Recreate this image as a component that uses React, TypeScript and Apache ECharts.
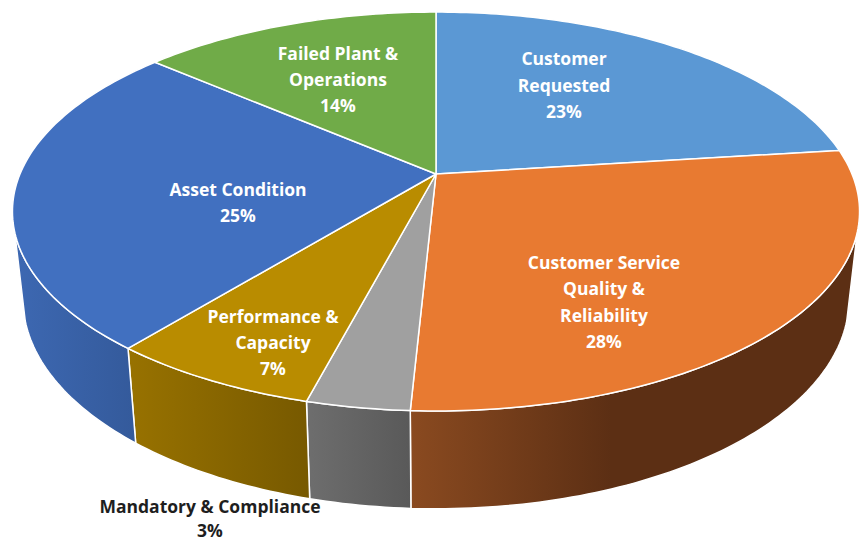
import React, { useEffect, useRef } from "react";
import * as echarts from "echarts";

const categories = [
  "Customer\nRequested",
  "Customer Service\nQuality &\nReliability",
  "Mandatory & Compliance",
  "Performance &\nCapacity",
  "Asset Condition",
  "Failed Plant &\nOperations",
];
const shares = [23, 27.8, 3.3, 6.8, 25.4, 13.7];

const topColors = ["#5B98D4", "#E87A31", "#A0A0A0", "#B98C00", "#4170C0", "#70AB48"];
const wallColors: [string, string, number][] = [
  ["#5B98D4", "#5B98D4", 1],
  ["#8A4A20", "#5C2F14", 0.45],
  ["#6E6E6E", "#595959", 1],
  ["#987200", "#775900", 1],
  ["#3D68B2", "#345A9B", 1],
  ["#70AB48", "#70AB48", 1],
];
const labelFirstLine: [number, number][] = [
  [564, 58],
  [604, 262],
  [210, 506],
  [273, 316],
  [238, 189],
  [338, 53],
];
const labelSteps = [26.5, 26.3, 24, 26, 26, 26];

// Projective view of the pie disc
const CX = 436;
const CY = 174;
const RX = 416;
const RY = 192.4;
const PERSPECTIVE = 0.188;
const WALL_SCALE_X = 0.975;
const WALL_SCALE_Y = 1.05;
const WALL_DROP = 86;
const WALL_FROM = 106.6;
const WALL_TO = 253.4;

const total = shares.reduce((a, b) => a + b, 0);
const startAngles = shares.map((_, i) =>
  (shares.slice(0, i).reduce((a, b) => a + b, 0) / total) * 360
);

function rim(deg: number): [number, number] {
  const r = (deg * Math.PI) / 180;
  const u = Math.sin(r);
  const v = -Math.cos(r);
  const d = 1 - PERSPECTIVE * v;
  return [CX + (RX * u) / d, CY + (RY * v) / d];
}
function lower(p: [number, number]): [number, number] {
  return [
    CX + (p[0] - CX) * WALL_SCALE_X,
    CY + (p[1] - CY) * WALL_SCALE_Y + WALL_DROP,
  ];
}
function arc(a: number, b: number): [number, number][] {
  const n = Math.max(2, Math.ceil((b - a) / 1));
  const pts: [number, number][] = [];
  for (let i = 0; i <= n; i++) pts.push(rim(a + ((b - a) * i) / n));
  return pts;
}

const renderWall = (params: any, api: any) => {
  const i = params.dataIndex;
  const a = Math.max(startAngles[i], WALL_FROM);
  const b = Math.min(startAngles[i] + (api.value(0) / total) * 360, WALL_TO);
  if (b <= a) return { type: "group", children: [] };
  const upper = arc(a, b);
  const points = [...upper, ...upper.slice().reverse().map(lower)];
  const [c0, c1, stop] = wallColors[i];
  return {
    type: "polygon",
    shape: { points },
    style: {
      fill: new echarts.graphic.LinearGradient(0, 0, 1, 0, [
        { offset: 0, color: c0 },
        { offset: stop, color: c1 },
        { offset: 1, color: c1 },
      ]),
      stroke: "#FFFFFF",
      lineWidth: 1.5,
      lineJoin: "round",
    },
  };
};

const renderTop = (params: any, api: any) => {
  const i = params.dataIndex;
  const a = startAngles[i];
  const b = a + (api.value(0) / total) * 360;
  return {
    type: "polygon",
    shape: { points: [[CX, CY], ...arc(a, b)] },
    style: {
      fill: topColors[i],
      stroke: "#FFFFFF",
      lineWidth: 1.5,
      lineJoin: "round",
    },
  };
};

const renderLabel = (params: any, api: any) => {
  const i = params.dataIndex;
  const outside = i === 2;
  const lines = [
    ...categories[i].split("\n"),
    `${Math.round((api.value(0) / total) * 100)}%`,
  ];
  return {
    type: "group",
    children: lines.map((line, k) => ({
      type: "text",
      x: labelFirstLine[i][0],
      y: labelFirstLine[i][1] + k * labelSteps[i],
      style: {
        text: line,
        fill: outside ? "#1E1E1E" : "#FFFFFF",
        font: '700 17.5px "Open Sans"',
        align: "center",
        verticalAlign: "middle",
      },
    })),
  };
};

export default function App() {
  const ref = useRef<HTMLDivElement>(null);
  useEffect(() => {
    document.body.style.margin = "0";
    const chart = echarts.init(ref.current!, undefined, { renderer: "svg" });
    const base = { type: "custom", coordinateSystem: "none", data: shares, silent: true };
    chart.setOption({
      animation: false,
      backgroundColor: "#FFFFFF",
      series: [
        { ...base, name: "walls", z: 1, renderItem: renderWall },
        { ...base, name: "tops", z: 2, renderItem: renderTop },
        { ...base, name: "labels", z: 3, renderItem: renderLabel },
      ],
    });
    return () => chart.dispose();
  }, []);
  return <div ref={ref} style={{ width: 859, height: 542 }} />;
}
